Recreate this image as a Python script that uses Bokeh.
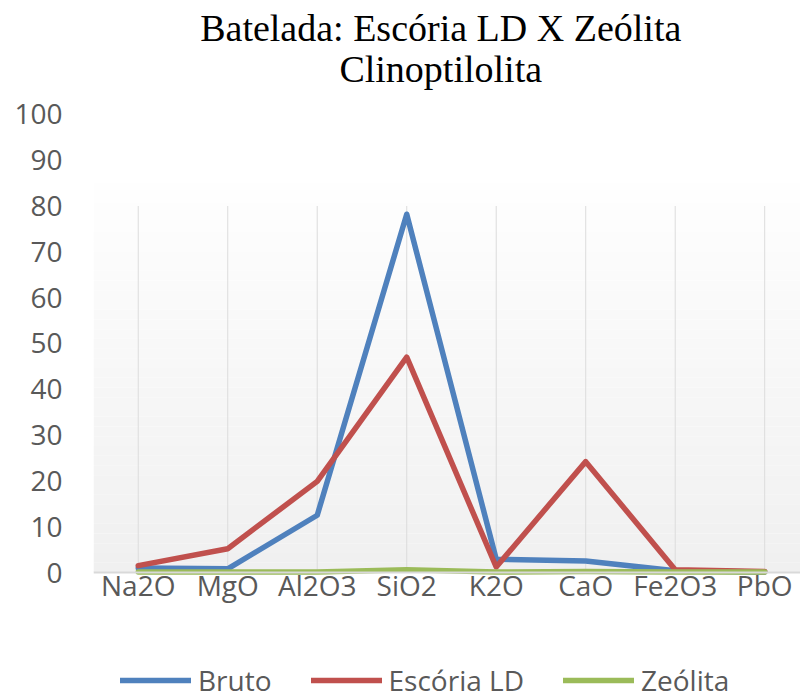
from bokeh.plotting import figure
from bokeh.models import (Range1d, FixedTicker, Legend, LegendItem, Label)
from bokeh.embed import file_html
from bokeh.resources import INLINE

categories = ["Na2O", "MgO", "Al2O3", "SiO2", "K2O", "CaO", "Fe2O3", "PbO"]
bruto = [1.0, 0.8, 12.5, 78.2, 2.9, 2.5, 0.4, 0.1]
escoria = [1.5, 5.2, 19.9, 47.0, 1.2, 24.2, 0.6, 0.2]
zeolita = [0.1, 0.1, 0.1, 0.6, 0.1, 0.2, 0.1, 0.1]
y_ticks = list(range(0, 101, 10))
series_names = ["Bruto", "Escória LD", "Zeólita"]
series_colors = ["#4f81bd", "#c0504d", "#9bbb59"]
title_lines = ["Batelada: Escória LD X Zeólita", "Clinoptilolita"]

SANS = "Open Sans"
TXT = "#595959"
FS = "28px"

x = list(range(len(categories)))

p = figure(width=800, height=699, output_backend="svg", toolbar_location=None,
           title_location=None,
           x_range=Range1d(-0.5, 7.4), y_range=Range1d(-27.72, 124.86),
           min_border_left=93, min_border_right=0, min_border_top=0,
           min_border_bottom=0)
p.outline_line_color = None
p.background_fill_color = "white"
p.border_fill_color = "white"
p.xgrid.visible = False
p.ygrid.visible = False

# background gradient of the plot area
n = 40
g_top = 85.0
ys = [g_top * i / n for i in range(n + 1)]
cols = []
for i in range(n):
    t = i / (n - 1)
    c = int(round(240 + (254 - 240) * t))
    cols.append("#%02x%02x%02x" % (c, c, c))
p.quad(left=-0.5, right=7.4, bottom=ys[:-1], top=ys[1:], fill_color=cols,
       line_color=None)

# vertical category gridlines
p.segment(x0=x, y0=[0] * len(x), x1=x, y1=[80] * len(x),
          line_color="#dcdcdc", line_width=1)

renderers = []
for vals, col in zip([bruto, escoria, zeolita], series_colors):
    r = p.line(x, vals, line_color=col, line_width=5.5, line_join="round",
               line_cap="round")
    renderers.append(r)

# axes
xa = p.xaxis[0]
xa.fixed_location = 0
xa.ticker = FixedTicker(ticks=x)
xa.major_label_overrides = {i: c for i, c in enumerate(categories)}
xa.axis_line_color = "#d9d9d9"
xa.axis_line_width = 2
xa.major_tick_line_color = None
xa.minor_tick_line_color = None
xa.major_tick_out = 0
xa.major_tick_in = 0
xa.major_label_text_font = SANS
xa.major_label_text_font_size = FS
xa.major_label_text_color = TXT
xa.major_label_standoff = -7

ya = p.yaxis[0]
ya.ticker = FixedTicker(ticks=y_ticks)
ya.axis_line_color = None
ya.major_tick_line_color = None
ya.minor_tick_line_color = None
ya.major_tick_out = 0
ya.major_tick_in = 0
ya.major_label_text_font = SANS
ya.major_label_text_font_size = FS
ya.major_label_text_color = TXT
ya.major_label_standoff = 31

# title (two lines)
for txt, yy in zip(title_lines, [118.95, 109.8]):
    p.add_layout(Label(x=3.38, y=yy, text=txt, text_align="center",
                       text_baseline="alphabetic",
                       text_font="Liberation Serif", text_font_size="38px",
                       text_color="#000000"))

legend = Legend(items=[LegendItem(label=nm, renderers=[r])
                       for nm, r in zip(series_names, renderers)],
                orientation="horizontal", location=(27, 0),
                glyph_width=71, glyph_height=20, label_standoff=7, spacing=39,
                padding=0, margin=0, border_line_color=None,
                background_fill_alpha=0,
                label_text_font=SANS, label_text_font_size=FS,
                label_text_color=TXT)
p.add_layout(legend)

open("out.html", "w").write(file_html(p, INLINE))
